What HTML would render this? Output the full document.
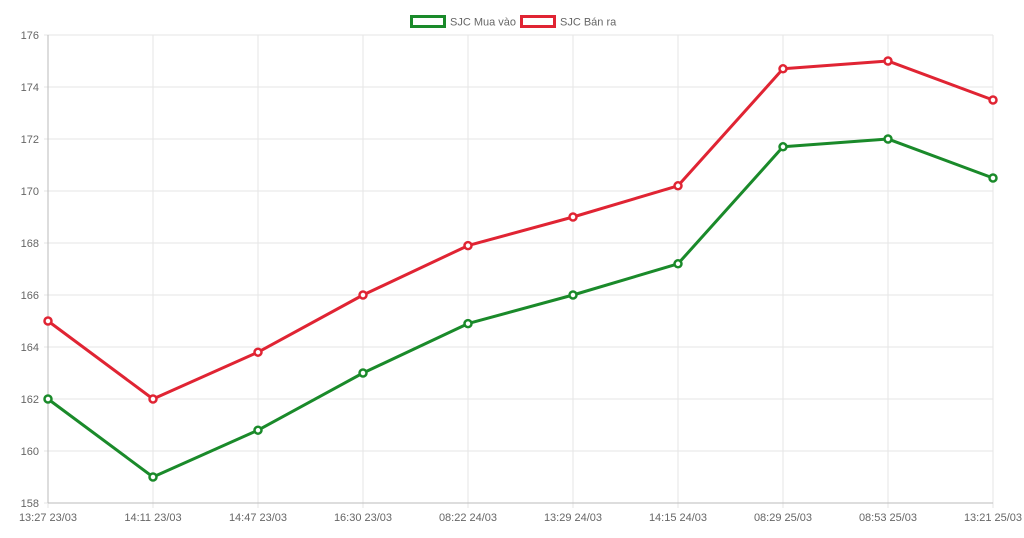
<!DOCTYPE html>
<html><head><meta charset="utf-8"><style>
html,body{margin:0;padding:0;background:#fff;}
svg{display:block;font-family:"Liberation Sans",sans-serif;}
</style></head><body>
<svg id="chart" width="1024" height="538">
<g id="grid"></g>
<g id="axes"></g>
<g id="series"></g>
<g id="legend">
<g>
<rect x="411.5" y="16.5" width="33" height="10" fill="#fff" stroke="#1a8a2a" stroke-width="3"/>
<text x="450" y="25.5" font-size="11" fill="#666">SJC Mua vào</text></g>
<g>
<rect x="521.5" y="16.5" width="33" height="10" fill="#fff" stroke="#e02433" stroke-width="3"/>
<text x="560" y="25.5" font-size="11" fill="#666">SJC Bán ra</text></g>
</g>
</svg>
<script>
const categories=["13:27 23/03","14:11 23/03","14:47 23/03","16:30 23/03","08:22 24/03","13:29 24/03","14:15 24/03","08:29 25/03","08:53 25/03","13:21 25/03"];
const buyValues=[162,159,160.8,163,164.9,166,167.2,171.7,172,170.5];
const sellValues=[165,162,163.8,166,167.9,169,170.2,174.7,175,173.5];
const yTicks=[158,160,162,164,166,168,170,172,174,176];
const X0=48,X1=993,Y0=503,Y1=35,YMIN=158,YMAX=176;
const ns="http://www.w3.org/2000/svg";
function xs(i){return X0+i*(X1-X0)/(categories.length-1);}
function ys(v){return Y0-(v-YMIN)*(Y0-Y1)/(YMAX-YMIN);}
function mk(t,a,p){const e=document.createElementNS(ns,t);for(const k in a)e.setAttribute(k,a[k]);p.appendChild(e);return e;}
const grid=document.getElementById('grid'),axes=document.getElementById('axes'),ser=document.getElementById('series');
yTicks.forEach(v=>{
const l=mk('line',{x1:X0-4,x2:X1,y1:ys(v),y2:ys(v),stroke:'#e6e6e6','stroke-width':1},grid);


const t=mk('text',{x:X0-9,y:ys(v)+4,'text-anchor':'end','font-size':11,fill:'#666'},axes);
t.textContent=v;


});
categories.forEach((c,i)=>{
const l=mk('line',{x1:xs(i),x2:xs(i),y1:Y1,y2:Y0+5,stroke:'#e6e6e6','stroke-width':1},grid);


const t=mk('text',{x:xs(i),y:Y0+18,'text-anchor':'middle','font-size':11,fill:'#666'},axes);
t.textContent=c;


});
const ya=mk('line',{x1:X0,x2:X0,y1:Y1,y2:Y0,stroke:'#bbb'},axes);


const xa=mk('line',{x1:X0,x2:X1,y1:Y0,y2:Y0,stroke:'#bbb'},axes);


function draw(vals,color,name){
const p=mk('polyline',{points:vals.map((v,i)=>xs(i)+','+ys(v)).join(' '),fill:'none',stroke:color,'stroke-width':3,'stroke-linejoin':'round'},ser);


vals.forEach((v,i)=>{
const c=mk('circle',{cx:xs(i),cy:ys(v),r:3.5,fill:'#fff',stroke:color,'stroke-width':2.5},ser);


});
}
draw(buyValues,'#1a8a2a','mua-vao');
draw(sellValues,'#e02433','ban-ra');
</script>
</body></html>
